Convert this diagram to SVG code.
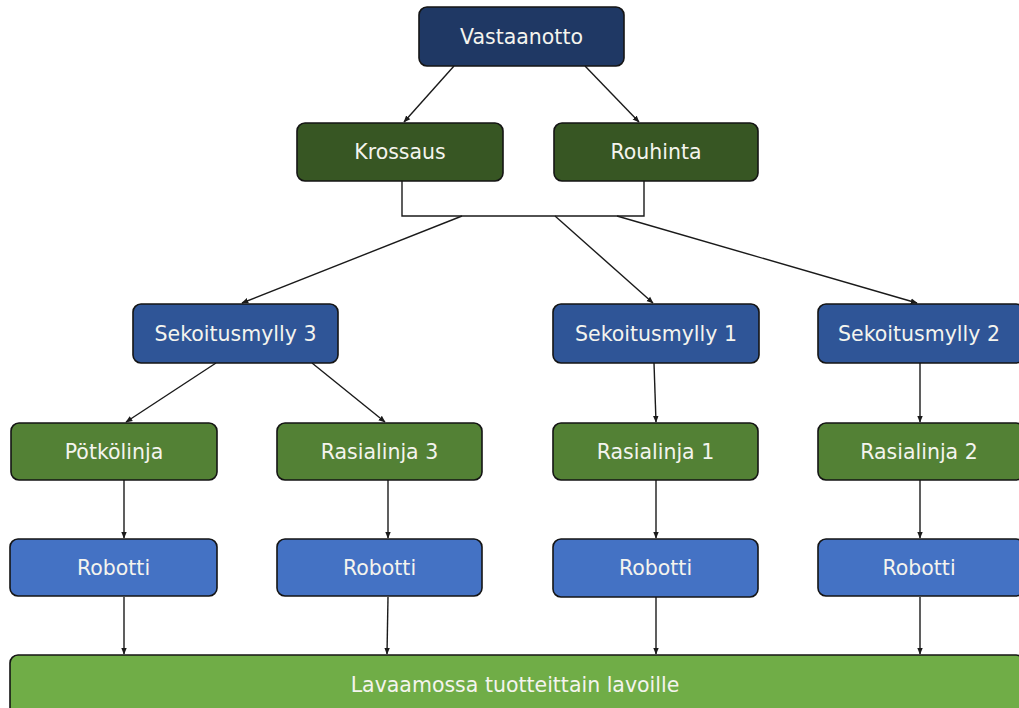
<svg xmlns="http://www.w3.org/2000/svg" width="1019" height="708" viewBox="0 0 1019 708">
<style>
.box{stroke:#141414;stroke-width:1.6}
.t{font-family:"DejaVu Sans",sans-serif;font-size:20.5px;fill:#f4f4ee;text-anchor:middle}
.navy{fill:#1f3864}.dg{fill:#375623}.mb{fill:#2f5597}.g{fill:#538135}.lb{fill:#4472c4}.lg{fill:#70ad47}
.c{stroke:#1a1a1a;stroke-width:1.4;fill:none}
</style>
<defs>
<marker id="ah" viewBox="0 0 10 10" refX="9" refY="5" markerWidth="7" markerHeight="7" orient="auto" markerUnits="userSpaceOnUse">
<path d="M0,1 L10,5 L0,9 Z" fill="#1a1a1a"/>
</marker>
</defs>
<rect width="1019" height="708" fill="#ffffff"/>
<g id="connectors">
<line class="c" x1="454" y1="66" x2="404" y2="122" marker-end="url(#ah)"/>
<line class="c" x1="585" y1="66" x2="639" y2="122" marker-end="url(#ah)"/>
<path class="c" d="M402 181 V216 H644 V181"/>
<line class="c" x1="462" y1="216" x2="242" y2="303" marker-end="url(#ah)"/>
<line class="c" x1="555" y1="216" x2="653" y2="303" marker-end="url(#ah)"/>
<line class="c" x1="617" y1="216" x2="917" y2="303" marker-end="url(#ah)"/>
<line class="c" x1="216" y1="363" x2="126" y2="422" marker-end="url(#ah)"/>
<line class="c" x1="312" y1="363" x2="385" y2="422" marker-end="url(#ah)"/>
<line class="c" x1="654" y1="363" x2="656" y2="422" marker-end="url(#ah)"/>
<line class="c" x1="920" y1="363" x2="920" y2="422" marker-end="url(#ah)"/>
<line class="c" x1="124" y1="480" x2="124" y2="538" marker-end="url(#ah)"/>
<line class="c" x1="388" y1="480" x2="388" y2="538" marker-end="url(#ah)"/>
<line class="c" x1="656" y1="480" x2="656" y2="538" marker-end="url(#ah)"/>
<line class="c" x1="920" y1="480" x2="920" y2="538" marker-end="url(#ah)"/>
<line class="c" x1="124" y1="597" x2="124" y2="654" marker-end="url(#ah)"/>
<line class="c" x1="388" y1="597" x2="387" y2="654" marker-end="url(#ah)"/>
<line class="c" x1="656" y1="597" x2="656" y2="654" marker-end="url(#ah)"/>
<line class="c" x1="920" y1="597" x2="920" y2="654" marker-end="url(#ah)"/>
</g>
<g id="vastaanotto"><rect class="box navy" x="419" y="7" width="205" height="59" rx="8"/><text class="t" x="521.5" y="44">Vastaanotto</text></g>
<g id="krossaus"><rect class="box dg" x="297" y="123" width="206" height="58" rx="8"/><text class="t" x="400" y="159">Krossaus</text></g>
<g id="rouhinta"><rect class="box dg" x="554" y="123" width="204" height="58" rx="8"/><text class="t" x="656" y="159">Rouhinta</text></g>
<g id="sekoitusmylly3"><rect class="box mb" x="133" y="304" width="205" height="59" rx="8"/><text class="t" x="235.5" y="341">Sekoitusmylly 3</text></g>
<g id="sekoitusmylly1"><rect class="box mb" x="553" y="304" width="206" height="59" rx="8"/><text class="t" x="656" y="341">Sekoitusmylly 1</text></g>
<g id="sekoitusmylly2"><rect class="box mb" x="818" y="304" width="206" height="59" rx="8"/><text class="t" x="919" y="341">Sekoitusmylly 2</text></g>
<g id="potkolinja"><rect class="box g" x="11" y="423" width="206" height="57" rx="8"/><text class="t" x="114" y="459">Pötkölinja</text></g>
<g id="rasialinja3"><rect class="box g" x="277" y="423" width="205" height="57" rx="8"/><text class="t" x="379.5" y="459">Rasialinja 3</text></g>
<g id="rasialinja1"><rect class="box g" x="553" y="423" width="205" height="57" rx="8"/><text class="t" x="655.5" y="459">Rasialinja 1</text></g>
<g id="rasialinja2"><rect class="box g" x="818" y="423" width="206" height="57" rx="8"/><text class="t" x="919" y="459">Rasialinja 2</text></g>
<g id="robotti1"><rect class="box lb" x="10" y="539" width="207" height="57" rx="8"/><text class="t" x="113.5" y="575">Robotti</text></g>
<g id="robotti2"><rect class="box lb" x="277" y="539" width="205" height="57" rx="8"/><text class="t" x="379.5" y="575">Robotti</text></g>
<g id="robotti3"><rect class="box lb" x="553" y="539" width="205" height="58" rx="8"/><text class="t" x="655.5" y="575">Robotti</text></g>
<g id="robotti4"><rect class="box lb" x="818" y="539" width="206" height="57" rx="8"/><text class="t" x="919" y="575">Robotti</text></g>
<g id="lavaamossa"><rect class="box lg" x="10" y="655" width="1014" height="70" rx="8"/><text class="t" x="515" y="692">Lavaamossa tuotteittain lavoille</text></g>
</svg>
